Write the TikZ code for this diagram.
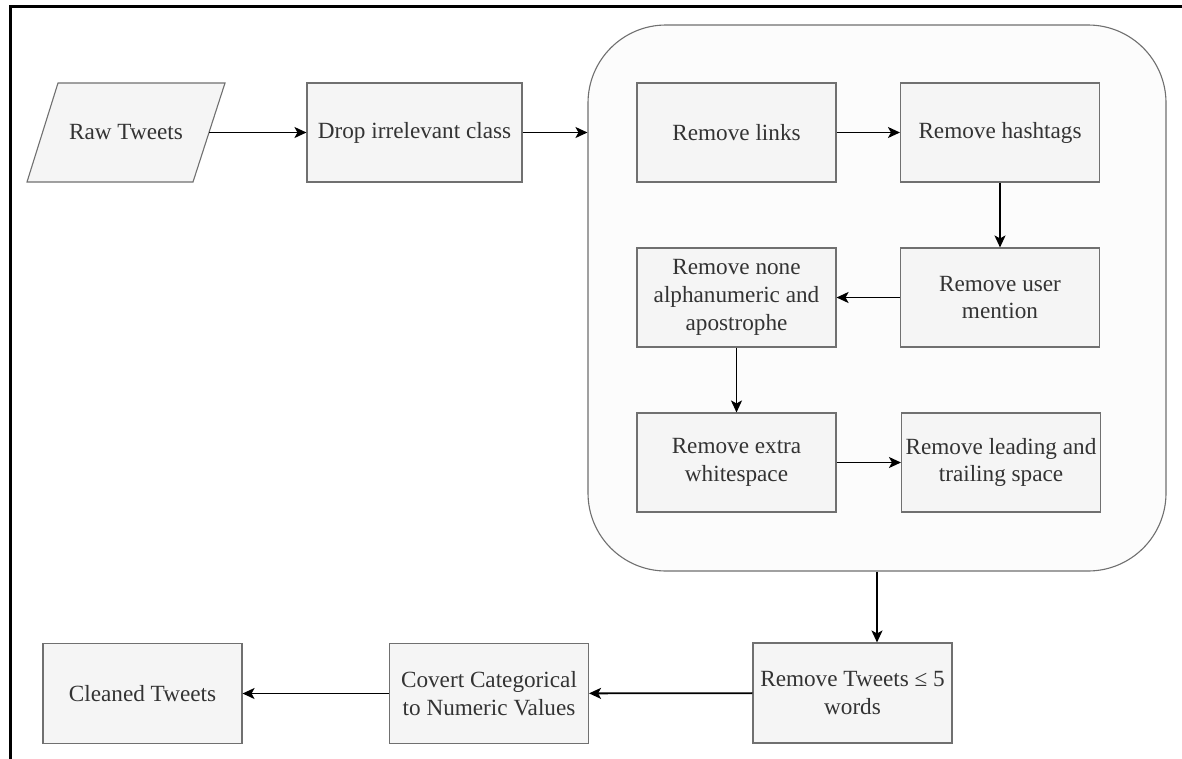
\documentclass[tikz,border=0pt]{standalone}
\usepackage{fontspec}
\setmainfont{Liberation Serif}
\usetikzlibrary{arrows.meta}
\definecolor{boxfill}{HTML}{F5F5F5}
\definecolor{boxline}{HTML}{707070}
\definecolor{boxtext}{HTML}{333333}
\definecolor{groupfill}{HTML}{FCFCFC}
\tikzset{
  stepbox/.style={draw=boxline, fill=boxfill, line width=1.1pt, text=boxtext,
    minimum width=199pt, minimum height=99pt, inner sep=0pt, align=center,
    font=\fontsize{23.2}{27.8}\selectfont},
  flow/.style={draw=black, line width=1.8pt, -{Stealth[length=12pt, width=11pt, inset=3pt]}},
}
\begin{document}
\begin{tikzpicture}[x=1pt, y=-1pt]
\useasboundingbox (0,0) rectangle (1182,758);
\fill[white] (0,0) rectangle (1182,758);
% frame lines
\draw[line width=3pt, black] (10,760) -- (10,6) -- (1184,6);

% group of cleaning steps
\node[draw=boxline, fill=groupfill, line width=1.1pt, rounded corners=78pt,
  minimum width=578pt, minimum height=546pt, inner sep=0pt] (group) at (877,298) {};

% input parallelogram
\draw[draw=boxline, fill=boxfill, line width=1.1pt]
  (58,83) -- (225,83) -- (193,182) -- (27,182) -- cycle;
\node[text=boxtext, font=\fontsize{23.2}{27.8}\selectfont] (raw) at (126,132.5) {Raw Tweets};
\coordinate (rawE) at (209,132.5);

\node[stepbox, minimum width=215pt] (drop) at (414.5,132.5) {Drop irrelevant class};

\node[stepbox] (links) at (736.5,132.5) {Remove links};
\node[stepbox] (hash) at (1000,132.5) {Remove hashtags};
\node[stepbox] (mention) at (1000,297.5) {Remove user\\mention};
\node[stepbox] (alnum) at (736.5,297.5) {Remove none\\alphanumeric and\\apostrophe};
\node[stepbox] (extra) at (736.5,462.5) {Remove extra\\whitespace};
\node[stepbox] (lead) at (1001,462.5) {Remove leading and\\trailing space};

\node[stepbox, minimum height=100pt] (short) at (852.5,693) {Remove Tweets ≤ 5\\words};
\node[stepbox, minimum height=100pt] (covert) at (489,693.5) {Covert Categorical\\to Numeric Values};
\node[stepbox, minimum height=100pt] (clean) at (142.5,693.5) {Cleaned Tweets};

% connectors
\draw[flow] (rawE) -- (drop.west);
\draw[flow] (drop.east) -- (drop.east -| group.west);
\draw[flow] (links) -- (hash);
\draw[flow] (hash) -- (mention);
\draw[flow] (mention) -- (alnum);
\draw[flow] (alnum) -- (extra);
\draw[flow] (extra) -- (lead);
\draw[flow] (group.south) -- (group.south |- short.north);
\draw[flow] (short) -- (covert);
\draw[flow] (covert) -- (clean);
\end{tikzpicture}
\end{document}
